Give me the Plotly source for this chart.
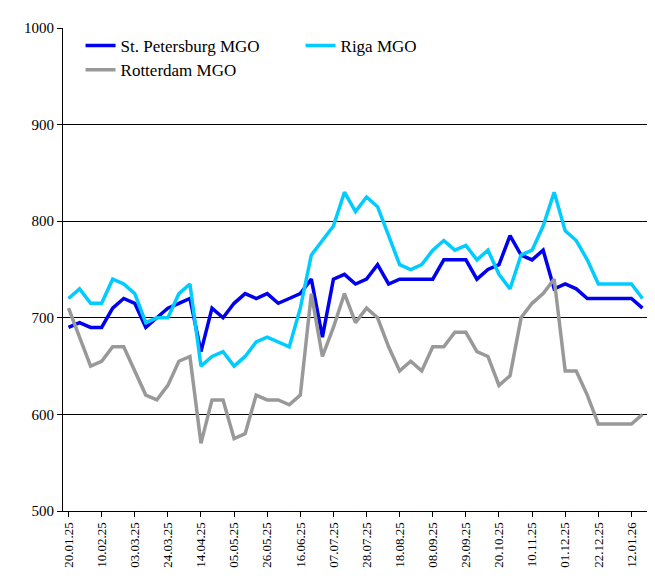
import pandas as pd
import plotly.graph_objects as go

# weekly dates, 20.01.25 .. 12.01.26
dates = pd.date_range("2025-01-20", periods=53, freq="7D").strftime("%d.%m.%y").tolist()

spb_mgo = [690, 695, 690, 690, 710, 720, 715, 690, 700, 710,
           715, 720, 665, 710, 700, 715, 725, 720, 725, 715,
           720, 725, 740, 680, 740, 745, 735, 740, 755, 735,
           740, 740, 740, 740, 760, 760, 760, 740, 750, 755,
           785, 765, 760, 770, 730, 735, 730, 720, 720, 720,
           720, 720, 710]
riga_mgo = [720, 730, 715, 715, 740, 735, 725, 695, 700, 700,
            725, 735, 650, 660, 665, 650, 660, 675, 680, 675,
            670, 710, 765, 780, 795, 830, 810, 825, 815, 785,
            755, 750, 755, 770, 780, 770, 775, 760, 770, 745,
            730, 765, 770, 795, 830, 790, 780, 760, 735, 735,
            735, 735, 720]
rotterdam_mgo = [710, 680, 650, 655, 670, 670, 645, 620, 615, 630,
                 655, 660, 570, 615, 615, 575, 580, 620, 615, 615,
                 610, 620, 725, 660, 690, 725, 695, 710, 700, 670,
                 645, 655, 645, 670, 670, 685, 685, 665, 660, 630,
                 640, 700, 715, 725, 740, 645, 645, 620, 590, 590,
                 590, 590, 600]

tick_labels = dates[::3]

fig = go.Figure()
fig.add_trace(go.Scatter(x=dates, y=spb_mgo, name="St. Petersburg MGO", mode="lines",
                         line=dict(color="#0000EE", width=3.5), legend="legend"))
fig.add_trace(go.Scatter(x=dates, y=riga_mgo, name="Riga MGO", mode="lines",
                         line=dict(color="#00CCFF", width=3.5), legend="legend"))
fig.add_trace(go.Scatter(x=dates, y=rotterdam_mgo, name="Rotterdam MGO", mode="lines",
                         line=dict(color="#999999", width=3.5), legend="legend2"))

serif = "Times New Roman, Liberation Serif, serif"
fig.update_layout(
    width=655, height=585,
    margin=dict(l=55, r=15, t=12, b=82),
    plot_bgcolor="white", paper_bgcolor="white",
    font=dict(family=serif, size=14, color="black"),
    legend=dict(orientation="h", x=0.03, y=1.0, xanchor="left", yanchor="top",
                entrywidth=175, font=dict(family=serif, size=17), bgcolor="rgba(0,0,0,0)"),
    legend2=dict(orientation="h", x=0.03, y=0.95, xanchor="left", yanchor="top",
                 font=dict(family=serif, size=17), bgcolor="rgba(0,0,0,0)"),
)
fig.update_xaxes(type="category", tickmode="array", tickvals=tick_labels, ticktext=tick_labels,
                 tickangle=-90, range=[-0.5, 52.5], showline=True, linecolor="black",
                 ticks="outside", tickcolor="black", showgrid=False,
                 tickfont=dict(family=serif, size=13))
fig.update_yaxes(range=[500, 1000], dtick=100, showline=True, linecolor="black", mirror=True,
                 ticks="outside", tickcolor="black", gridcolor="black", gridwidth=1,
                 tickfont=dict(family=serif, size=15))

fig.write_html("out.html")
